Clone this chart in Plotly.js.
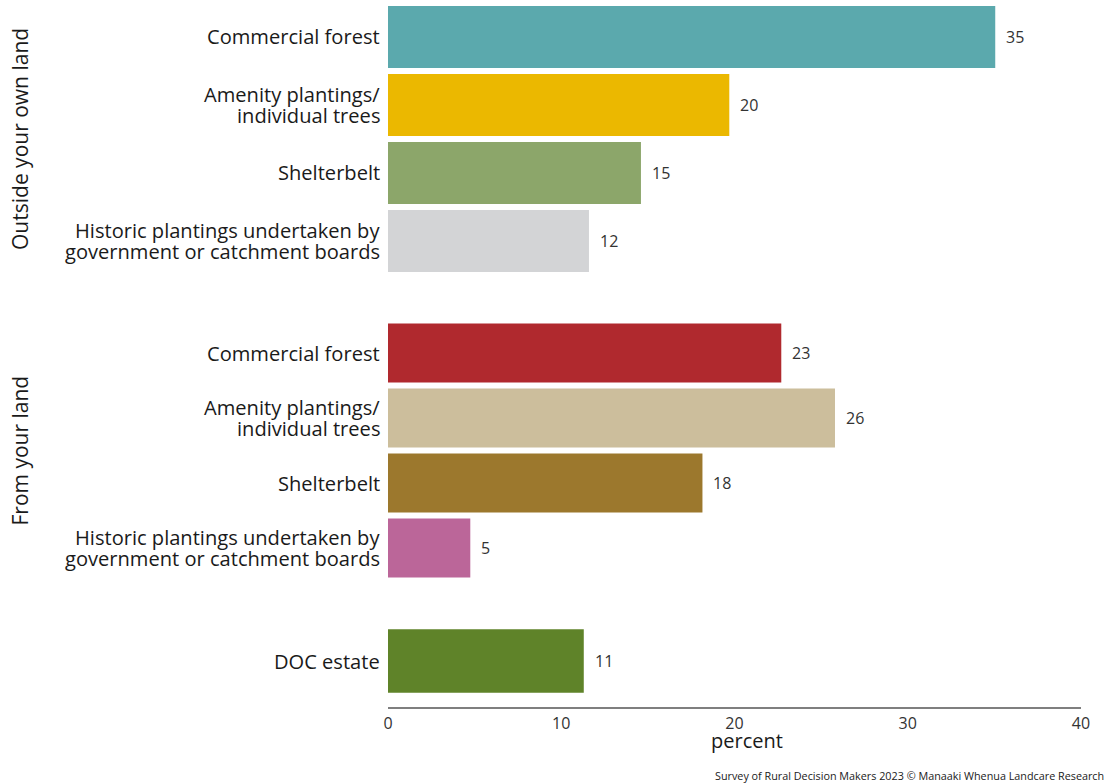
<!DOCTYPE html>
<html>
<head>
<meta charset="utf-8">
<script src="https://cdn.plot.ly/plotly-3.0.1.min.js"></script>
<style>html,body{margin:0;padding:0;background:#fff;}</style>
</head>
<body>
<div id="chart" style="width:1109px;height:784px;"></div>
<script>
// ---- data ----
const plantingCategories = [
  'Commercial forest',
  'Amenity plantings/<br>individual trees',
  'Shelterbelt',
  'Historic plantings undertaken by<br>government or catchment boards'
];
const outsideOwnLand = [35.05, 19.7, 14.6, 11.6];
const fromYourLand = [22.7, 25.8, 18.15, 4.75];
const docCategory = ['DOC estate'];
const docValues = [11.3];
const groupLabels = ['Outside your own land', 'From your land'];
const xTickValues = [0, 10, 20, 30, 40];
const xAxisTitle = 'percent';
const caption = 'Survey of Rural Decision Makers 2023 © Manaaki Whenua Landcare Research';

// ---- styles ----
const outsideColors = ['#5BA9AD', '#EBB800', '#8CA66A', '#D3D4D6'];
const fromColors = ['#B0292E', '#CCBE9C', '#9C782D', '#BB6699'];
const docColors = ['#5F8329'];
const FONT = 'Open Sans, Noto Sans, sans-serif';
const LABEL_SIZE = 20.1;
const LABEL_LINE = 21.5;

function barTrace(cats, vals, colors, yaxis, width) {
  return {
    type: 'bar', orientation: 'h',
    y: cats, x: vals,
    xaxis: 'x', yaxis: yaxis,
    width: cats.map(() => width),
    marker: {color: colors, line: {width: 0}},
    hoverinfo: 'x+y'
  };
}

const data = [
  barTrace(plantingCategories, outsideOwnLand, outsideColors, 'y', 0.912),
  barTrace(plantingCategories, fromYourLand, fromColors, 'y2', 0.908),
  barTrace(docCategory, docValues, docColors, 'y3', 0.906)
];

function valueAnnotations(cats, vals, yref) {
  return vals.map((v, i) => ({
    x: v, y: cats[i], xref: 'x', yref: yref,
    text: String(Math.round(v)),
    showarrow: false, xanchor: 'left', yanchor: 'middle', xshift: 9,
    font: {family: FONT, size: 16, color: '#333'}
  }));
}

// category labels drawn line by line so that line spacing matches the reference
function categoryLabels(cats, yref) {
  const out = [];
  cats.forEach(c => {
    const lines = c.split('<br>');
    const n = lines.length;
    lines.forEach((ln, i) => {
      out.push({
        x: 0, y: c, xref: 'x', yref: yref,
        text: ln, showarrow: false,
        xanchor: 'right', yanchor: 'middle', xshift: -7,
        yshift: ((n - 1) / 2 - i) * LABEL_LINE,
        borderpad: 0,
        font: {family: FONT, size: LABEL_SIZE, color: '#1a1a1a'}
      });
    });
  });
  return out;
}

const yDomains = [[0.6116, 0.9958], [0.1801, 0.5473], [0.0169, 0.1158]];

function yAxis(domain, cats) {
  return {
    domain: domain, anchor: 'x', type: 'category',
    categoryarray: cats, categoryorder: 'array',
    range: [cats.length - 0.5, -0.5],
    showgrid: false, zeroline: false, showline: false, ticks: '',
    showticklabels: false,
    fixedrange: true
  };
}

const annotations = []
  .concat(categoryLabels(plantingCategories, 'y'))
  .concat(categoryLabels(plantingCategories, 'y2'))
  .concat(categoryLabels(docCategory, 'y3'))
  .concat(valueAnnotations(plantingCategories, outsideOwnLand, 'y'))
  .concat(valueAnnotations(plantingCategories, fromYourLand, 'y2'))
  .concat(valueAnnotations(docCategory, docValues, 'y3'));

groupLabels.forEach((g, i) => {
  annotations.push({
    text: g, xref: 'paper', yref: 'paper',
    x: 0, y: (yDomains[i][0] + yDomains[i][1]) / 2,
    xanchor: 'center', yanchor: 'middle', xshift: -368,
    textangle: -90, showarrow: false,
    font: {family: FONT, size: 21, color: '#1a1a1a'}
  });
});

// x axis title
annotations.push({
  text: xAxisTitle, xref: 'paper', yref: 'paper', x: 0.5, y: 0,
  xanchor: 'center', yanchor: 'middle', xshift: 12, yshift: -32,
  borderpad: 0,
  showarrow: false, font: {family: FONT, size: 20, color: '#1a1a1a'}
});

annotations.push({
  text: caption, xref: 'paper', yref: 'paper', x: 1, y: 0,
  xanchor: 'right', yanchor: 'middle', xshift: 25, yshift: -67,
  showarrow: false, font: {family: FONT, size: 10.8, color: '#1a1a1a'}
});

const layout = {
  width: 1109, height: 784,
  margin: {l: 388, r: 28, t: 0, b: 76, pad: 0},
  paper_bgcolor: '#ffffff', plot_bgcolor: '#ffffff',
  font: {family: FONT, color: '#1a1a1a'},
  showlegend: false,
  xaxis: {
    range: [0, 40], anchor: 'free', position: 0,
    tickvals: xTickValues, ticktext: xTickValues.map(String),
    showgrid: false, zeroline: false,
    showline: true, linecolor: '#7f7f7f', linewidth: 2,
    ticks: '', ticklabelstandoff: 1,
    tickfont: {family: FONT, size: 16, color: '#333'},
    fixedrange: true
  },
  yaxis: yAxis(yDomains[0], plantingCategories),
  yaxis2: yAxis(yDomains[1], plantingCategories),
  yaxis3: yAxis(yDomains[2], docCategory),
  annotations: annotations
};

Plotly.newPlot('chart', data, layout, {displayModeBar: false, staticPlot: true});
</script>
</body>
</html>
